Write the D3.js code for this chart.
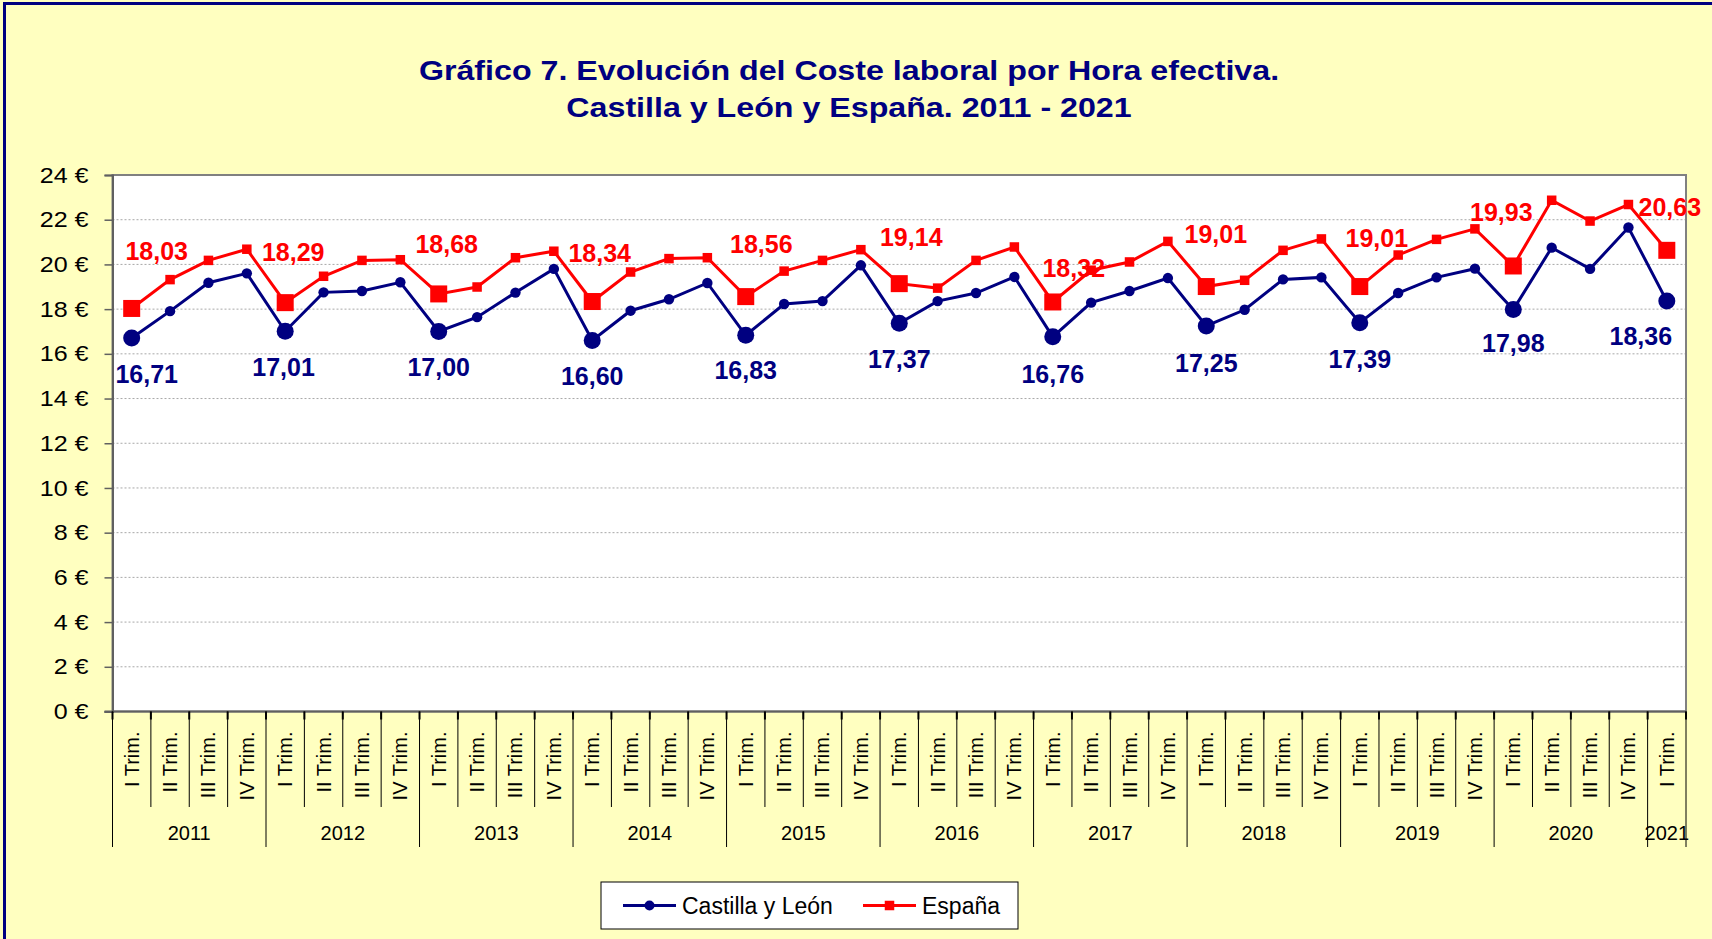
<!DOCTYPE html>
<html>
<head>
<meta charset="utf-8">
<script src="https://cdn.jsdelivr.net/npm/d3@7"></script>
<style>
  html, body { margin: 0; padding: 0; background: #FFFFC0; }
  svg { display: block; }
  text { font-family: Arial, "Liberation Sans", sans-serif; }
</style>
</head>
<body>
<svg id="chart" width="1712" height="939"></svg>
<script>
// ---------- DATA ----------
const years = ["2011","2012","2013","2014","2015","2016","2017","2018","2019","2020","2021"];
const quarters = ["I Trim.","II Trim.","III Trim.","IV Trim."];
const castillaLeon = [
  16.71, 17.91, 19.18, 19.60,
  17.01, 18.75, 18.81, 19.20,
  17.00, 17.64, 18.74, 19.80,
  16.60, 17.93, 18.44, 19.17,
  16.83, 18.23, 18.36, 19.96,
  17.37, 18.36, 18.72, 19.44,
  16.76, 18.29, 18.81, 19.39,
  17.25, 17.97, 19.33, 19.42,
  17.39, 18.72, 19.42, 19.81,
  17.98, 20.75, 19.80, 21.65,
  18.36
];
const espana = [
  18.03, 19.32, 20.18, 20.68,
  18.29, 19.47, 20.18, 20.21,
  18.68, 18.99, 20.30, 20.59,
  18.34, 19.66, 20.26, 20.30,
  18.56, 19.70, 20.18, 20.66,
  19.14, 18.94, 20.18, 20.78,
  18.32, 19.74, 20.11, 21.03,
  19.01, 19.29, 20.63, 21.14,
  19.01, 20.42, 21.12, 21.59,
  19.93, 22.87, 21.94, 22.68,
  20.63
];
const yTicks = [0, 2, 4, 6, 8, 10, 12, 14, 16, 18, 20, 22, 24];
const seriesNames = ["Castilla y León", "España"];
const titleLines = ["Gráfico 7. Evolución del Coste laboral por Hora efectiva.",
                    "Castilla y León y España. 2011 - 2021"];

// ---------- LAYOUT (label nudges, px) ----------
const esLabelNudge = [[25,-57],[8,-50],[8,-50],[7.5,-48],[15.6,-52],[12,-46],[21,-34],[9.5,-52],[17,-48],[-12,-54],[3,-43.5]];
const clLabelNudge = [[15,36],[-1.6,36],[0,36],[0,36],[0,35],[0,36],[0,37],[0,37],[0,36],[0,34],[-26,35]];

// categories
const cats = [];
years.forEach((y, yi) => {
  quarters.forEach((q, qi) => {
    if (cats.length < castillaLeon.length) cats.push({year: y, q: q, qi: qi, i: cats.length});
  });
});

const W = 1712, H = 939;
const L = 112.5, R = 1686, T = 175, B = 711.5;
const navy = "#000080", red = "#FF0000";

const svg = d3.select("#chart");

svg.append("rect").attr("width", W).attr("height", H).attr("fill", "#FFFFC0");
svg.append("rect").attr("x", 4.5).attr("y", 3.5).attr("width", W + 10).attr("height", H + 10)
  .attr("fill", "none").attr("stroke", navy).attr("stroke-width", 3);

// title (horizontally stretched like the original rendering)
svg.selectAll("text.title").data(titleLines).join("text")
  .attr("class", "title")
  .attr("transform", (d, i) => `translate(849,${80 + i * 37.3}) scale(1.15,1)`)
  .attr("text-anchor", "middle")
  .attr("font-size", 28).attr("font-weight", "bold").attr("fill", navy)
  .text(d => d);

const x = d3.scaleBand().domain(cats.map(c => c.i)).range([L, R]).padding(0);
const bw = x.bandwidth();
const cx = i => x(i) + bw / 2;
const y = d3.scaleLinear().domain([0, 24]).range([B, T]);

// plot area
svg.append("rect").attr("x", L).attr("y", T).attr("width", R - L).attr("height", B - T)
  .attr("fill", "#FFFFFF");

// gridlines
svg.append("g").selectAll("line").data(yTicks.filter(v => v > 0 && v < 24)).join("line")
  .attr("x1", L).attr("x2", R).attr("y1", d => y(d)).attr("y2", d => y(d))
  .attr("stroke", "#A8A8A8").attr("stroke-width", 1).attr("stroke-dasharray", "2,2");

// plot border
svg.append("rect").attr("x", L).attr("y", T).attr("width", R - L).attr("height", B - T)
  .attr("fill", "none").attr("stroke", "#808080").attr("stroke-width", 2);

// y axis
const yAxis = d3.axisLeft(y).tickValues(yTicks).tickSize(8).tickPadding(9)
  .tickFormat(d => d + " €");
const gy = svg.append("g").attr("transform", `translate(${L},0)`).call(yAxis);
gy.select(".domain").attr("stroke", "#606060").attr("stroke-width", 2);
gy.selectAll(".tick line").attr("stroke", "#606060").attr("stroke-width", 1.5);
gy.selectAll(".tick text").attr("font-size", 22).attr("fill", "#000")
  .attr("font-family", 'Arial, "Liberation Sans", sans-serif')
  .attr("x", -24 / 1.14)
  .attr("transform", "scale(1.14,1)");

// x axis line
svg.append("line").attr("x1", L - 8).attr("x2", R).attr("y1", B).attr("y2", B)
  .attr("stroke", "#606060").attr("stroke-width", 2);

// category separators
const bounds = d3.range(cats.length + 1);
svg.append("g").selectAll("line").data(bounds).join("line")
  .attr("x1", d => d < cats.length ? x(d) : R)
  .attr("x2", d => d < cats.length ? x(d) : R)
  .attr("y1", B)
  .attr("y2", d => (d % 4 === 0 || d === cats.length) ? 847 : 807)
  .attr("stroke", "#000").attr("stroke-width", 1);
// small ticks on axis
svg.append("g").selectAll("line").data(bounds).join("line")
  .attr("x1", d => d < cats.length ? x(d) : R)
  .attr("x2", d => d < cats.length ? x(d) : R)
  .attr("y1", B).attr("y2", B + 8)
  .attr("stroke", "#000").attr("stroke-width", 2);

// quarter labels
svg.append("g").selectAll("text").data(cats).join("text")
  .attr("transform", d => `translate(${cx(d.i)},731.5) rotate(-90)`)
  .attr("text-anchor", "end").attr("dy", "0.35em")
  .attr("font-size", 20).attr("fill", "#000")
  .text(d => d.q);

// year labels
const yearGroups = years.map((yr, yi) => {
  const items = cats.filter(c => c.year === yr);
  const first = items[0].i, last = items[items.length - 1].i;
  return {yr, c: (x(first) + x(last) + bw) / 2};
});
svg.append("g").selectAll("text").data(yearGroups).join("text")
  .attr("x", d => d.c).attr("y", 840)
  .attr("text-anchor", "middle").attr("font-size", 20).attr("fill", "#000")
  .text(d => d.yr);

// lines
const line = d3.line().x((d, i) => cx(i)).y(d => y(d));
svg.append("path").datum(castillaLeon).attr("d", line)
  .attr("fill", "none").attr("stroke", navy).attr("stroke-width", 3);
svg.append("path").datum(espana).attr("d", line)
  .attr("fill", "none").attr("stroke", red).attr("stroke-width", 3);

// markers
svg.append("g").selectAll("circle").data(castillaLeon).join("circle")
  .attr("cx", (d, i) => cx(i)).attr("cy", d => y(d))
  .attr("r", (d, i) => i % 4 === 0 ? 8.5 : 5.2)
  .attr("fill", navy);
svg.append("g").selectAll("rect").data(espana).join("rect")
  .each(function(d, i) {
    const s = i % 4 === 0 ? 17 : 9.5;
    d3.select(this).attr("x", cx(i) - s / 2).attr("y", y(d) - s / 2)
      .attr("width", s).attr("height", s);
  })
  .attr("fill", red);

// value labels (first quarter of each year)
const fmt = v => d3.format(".2f")(v).replace(".", ",");
const q1 = cats.filter(c => c.qi === 0);
svg.append("g").selectAll("text").data(q1).join("text")
  .attr("x", (d, k) => cx(d.i) + esLabelNudge[k][0])
  .attr("y", (d, k) => y(espana[d.i]) + esLabelNudge[k][1])
  .attr("dy", "0.35em").attr("text-anchor", "middle")
  .attr("font-size", 25).attr("font-weight", "bold").attr("fill", red)
  .text(d => fmt(espana[d.i]));
svg.append("g").selectAll("text").data(q1).join("text")
  .attr("x", (d, k) => cx(d.i) + clLabelNudge[k][0])
  .attr("y", (d, k) => y(castillaLeon[d.i]) + clLabelNudge[k][1])
  .attr("dy", "0.35em").attr("text-anchor", "middle")
  .attr("font-size", 25).attr("font-weight", "bold").attr("fill", navy)
  .text(d => fmt(castillaLeon[d.i]));

// legend
const lg = svg.append("g");
lg.append("rect").attr("x", 601).attr("y", 882).attr("width", 417).attr("height", 47)
  .attr("fill", "#FFFFFF").attr("stroke", "#000").attr("stroke-width", 1);
const ly = 905.5;
const legendItems = [
  {name: seriesNames[0], color: navy, x0: 623, tx: 682, shape: "circle"},
  {name: seriesNames[1], color: red, x0: 863, tx: 922, shape: "square"}
];
legendItems.forEach(it => {
  lg.append("line").attr("x1", it.x0).attr("x2", it.x0 + 53).attr("y1", ly).attr("y2", ly)
    .attr("stroke", it.color).attr("stroke-width", 3);
  if (it.shape === "circle") {
    lg.append("circle").attr("cx", it.x0 + 26.5).attr("cy", ly).attr("r", 5).attr("fill", it.color);
  } else {
    lg.append("rect").attr("x", it.x0 + 26.5 - 4.75).attr("y", ly - 4.75).attr("width", 9.5).attr("height", 9.5).attr("fill", it.color);
  }
  lg.append("text").attr("x", it.tx).attr("y", ly).attr("dy", "0.36em")
    .attr("font-size", 23).attr("fill", "#000").text(it.name);
});
</script>
</body>
</html>
